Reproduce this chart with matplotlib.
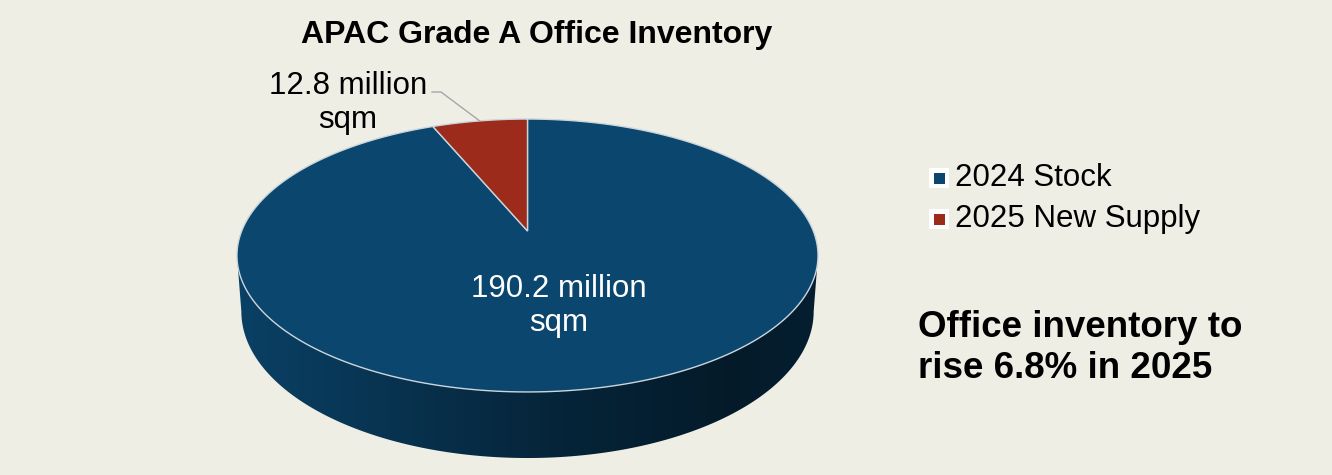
import numpy as np
import matplotlib.pyplot as plt
from matplotlib.patches import Polygon, Rectangle
from matplotlib.colors import LinearSegmentedColormap, to_rgb

plt.rcParams['font.family'] = ['Liberation Sans', 'DejaVu Sans']

# dados do gráfico
labels = ['2024 Stock', '2025 New Supply']
values = [190.2, 12.8]
value_labels = ['190.2 million\nsqm', '12.8 million\nsqm']
colors = ['#0B466E', '#9C2B1B']
title = 'APAC Grade A Office Inventory'
note = 'Office inventory to\nrise 6.8% in 2025'

bg = '#EFEEE5'
edge = '#CBD5DC'

# geometria da pizza 3D (em pixels, com perspectiva)
cx, cy = 527.5, 231.0
rx = 285.8
tilt = -90.6
persp = 0.1795
depth = 54.2


def proj(phi, r=1.0, drop=0.0, shrink=1.0):
    u, v = r * np.cos(phi), r * np.sin(phi)
    w = 1 + persp * v
    return cx + rx * shrink * u / w, (tilt * v + cy + drop) / w


fig = plt.figure(figsize=(13.32, 4.75), dpi=100, facecolor=bg)
ax = fig.add_axes([0, 0, 1, 1])
ax.set_facecolor(bg)

# fatias começam às 12h e seguem no sentido horário
total = sum(values)
bounds = 90 - 360 * np.concatenate([[0], np.cumsum(values)]) / total

# parte frontal visível da lateral
front_a = np.pi + np.arcsin(persp)
front_b = 2 * np.pi - np.arcsin(persp)

for i, col in enumerate(colors):
    t1, t2 = np.radians(bounds[i]), np.radians(bounds[i + 1])
    # lateral: interseção da fatia com a frente
    lo, hi = min(t1, t2), max(t1, t2)
    for k in (-1, 0, 1):
        s, e = max(lo, front_a + 2 * np.pi * k), min(hi, front_b + 2 * np.pi * k)
        if e <= s:
            continue
        ph = np.linspace(s, e, 200)
        xt, yt = proj(ph)
        xb, yb = proj(ph[::-1], drop=depth, shrink=0.985)
        wall = Polygon(np.column_stack([np.r_[xt, xb], np.r_[yt, yb]]),
                       closed=True, facecolor='none', edgecolor='none')
        ax.add_patch(wall)
        base = np.array(to_rgb(col))
        cmap = LinearSegmentedColormap.from_list(
            'wall', [(0, base * 0.92), (0.3, base * 0.7), (0.55, base * 0.52),
                     (0.85, base * 0.38), (1, base * 0.44)])
        x0, x1 = min(xt.min(), xb.min()), max(xt.max(), xb.max())
        grad = np.linspace(0, 1, 256).reshape(1, -1)
        img = ax.imshow(grad, extent=(x0, x1, max(yb.max(), yt.max()), min(yt.min(), yb.min())),
                        aspect='auto', cmap=cmap, zorder=1, interpolation='bilinear')
        img.set_clip_path(wall)

    # topo da fatia
    ph = np.linspace(t1, t2, 300)
    xs, ys = proj(ph)
    ox, oy = proj(0.0, r=0.0)
    top = Polygon(np.column_stack([np.r_[ox, xs], np.r_[oy, ys]]), closed=True,
                  facecolor=col, edgecolor=edge, linewidth=1.0, zorder=2)
    ax.add_patch(top)

# rótulo da fatia grande (dentro)
mid0 = np.radians((bounds[0] + bounds[1]) / 2)
lx, ly = proj(mid0, r=0.5)
ax.text(lx, ly + 4, value_labels[0], color='white', fontsize=22.5, ha='center',
        va='center', linespacing=1.18, zorder=3)

# rótulo da fatia pequena (fora, com linha guia)
mid1 = np.radians((bounds[1] + bounds[2]) / 2)
px, py = proj(mid1)
ax.plot([432, 441, px], [92, 92, py], color='#A6A6A6', lw=1.0, zorder=3)
ax.text(348, 103, value_labels[1], color='black', fontsize=22.5, ha='center',
        va='center', linespacing=1.18, zorder=3)

# título
ax.text(536.5, 43, title, fontsize=23, fontweight='bold', ha='center', va='baseline')

# legenda
for j, (lab, col) in enumerate(zip(labels, colors)):
    yc = 178 + 41 * j
    ax.add_patch(Rectangle((939 - 10, yc - 10), 20, 20, facecolor='white',
                           edgecolor='none', zorder=3))
    ax.add_patch(Rectangle((939 - 5.5, yc - 5.5), 11, 11, facecolor=col,
                           edgecolor='none', zorder=4))
    ax.text(955, yc, lab, fontsize=22.5, ha='left', va='center')

# destaque à direita
ax.text(918, 348, note, fontsize=26.5, fontweight='bold', ha='left', va='center',
        linespacing=1.25)

ax.set_xlim(0, 1332)
ax.set_ylim(475, 0)
ax.axis('off')

plt.savefig('out.png', dpi=100, facecolor=bg)
